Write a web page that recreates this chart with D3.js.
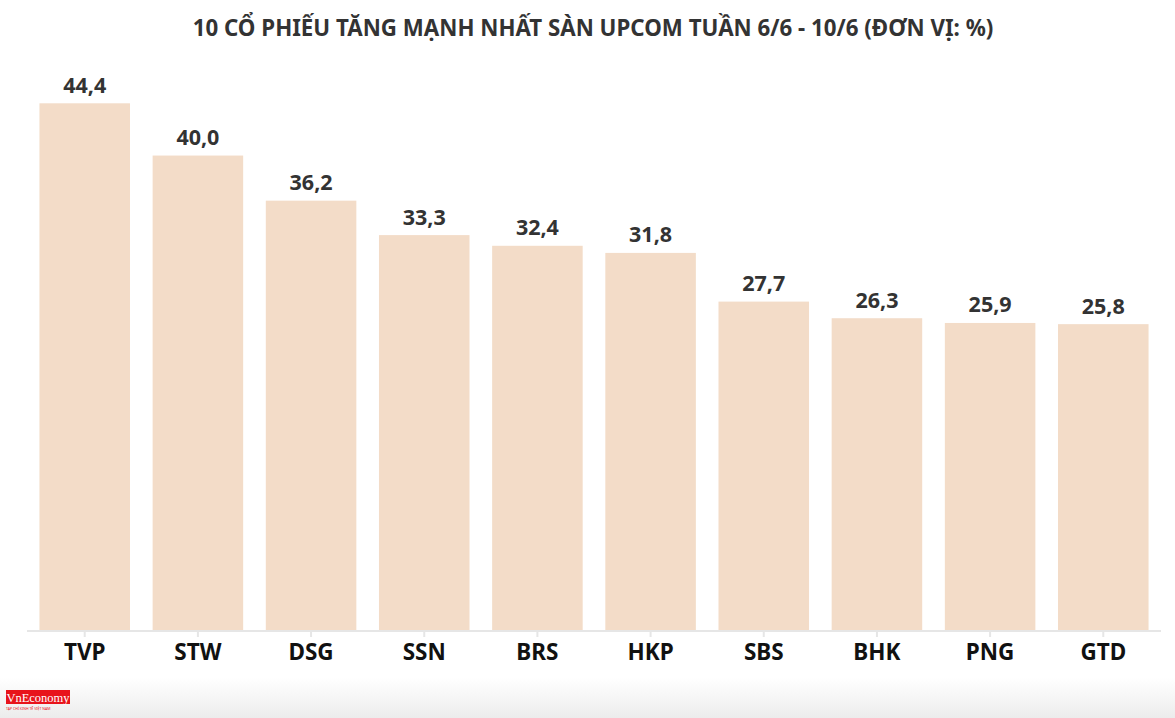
<!DOCTYPE html>
<html><head><meta charset="utf-8">
<script src="https://cdn.jsdelivr.net/npm/d3@7"></script>
<style>
html,body{margin:0;padding:0;background:#fff;}
svg{display:block;font-family:"Noto Sans",sans-serif;}
</style></head>
<body>
<svg id="chart" width="1175" height="718"></svg>
<script>
const title = "10 CỔ PHIẾU TĂNG MẠNH NHẤT SÀN UPCOM TUẦN 6/6 - 10/6 (ĐƠN VỊ: %)";
const categories = ["TVP","STW","DSG","SSN","BRS","HKP","SBS","BHK","PNG","GTD"];
const values = [44.4,40.0,36.2,33.3,32.4,31.8,27.7,26.3,25.9,25.8];

const svg = d3.select("#chart");
const W = 1175, H = 718;

const defs = svg.append("defs");
const g = defs.append("linearGradient").attr("id","foot").attr("x1",0).attr("y1",0).attr("x2",0).attr("y2",1);
g.append("stop").attr("offset","0%").attr("stop-color","#ffffff");
g.append("stop").attr("offset","100%").attr("stop-color","#ececec");
svg.append("rect").attr("x",0).attr("y",678).attr("width",W).attr("height",40).attr("fill","url(#foot)");

svg.append("text").attr("x",593).attr("y",36).attr("text-anchor","middle")
  .attr("font-size",22.3).attr("font-weight",700).attr("fill","#333").text(title);

const x = d3.scaleBand().domain(categories).range([27,1161]).paddingInner(0.2).paddingOuter(0.11);
const y = d3.scaleLinear().domain([0,44.4]).range([630.5,103.3]);

svg.append("g").selectAll("rect").data(values).join("rect")
  .attr("x",(d,i)=>x(categories[i])).attr("width",x.bandwidth())
  .attr("y",d=>y(d)).attr("height",d=>y(0)-y(d)).attr("fill","#f3dcc8");

svg.append("g").selectAll("text").data(values).join("text")
  .attr("x",(d,i)=>x(categories[i])+x.bandwidth()/2).attr("y",d=>y(d)-10.5)
  .attr("text-anchor","middle").attr("font-size",21.5).attr("font-weight",700).attr("fill","#333")
  .text(d=>d3.format(".1f")(d).replace(".",","));

const axis = svg.append("g").attr("transform","translate(0,631)")
  .call(d3.axisBottom(x).tickSize(6).tickPadding(8));
axis.select(".domain").attr("stroke","#e6e6e6").attr("stroke-width",2).attr("d","M27,0H1161");
axis.selectAll(".tick line").attr("stroke","#e6e6e6").attr("stroke-width",2);
axis.selectAll(".tick text").attr("font-family","'Noto Sans',sans-serif").attr("font-size",22.5)
  .attr("font-weight",700).attr("fill","#111").attr("y",28.5).attr("dy",0);

const logo = svg.append("g").attr("transform","translate(6,690)");
logo.append("rect").attr("width",64).attr("height",14).attr("fill","#e8141b");
logo.append("text").attr("x",32).attr("y",11.5).attr("text-anchor","middle")
  .attr("font-family","'Liberation Serif',serif").attr("font-size",12.5).attr("fill","#fff").text("VnEconomy");
logo.append("text").attr("x",0).attr("y",20).attr("font-size",3.5).attr("fill","#e8141b").text("TẠP CHÍ KINH TẾ VIỆT NAM");
</script>
</body></html>
